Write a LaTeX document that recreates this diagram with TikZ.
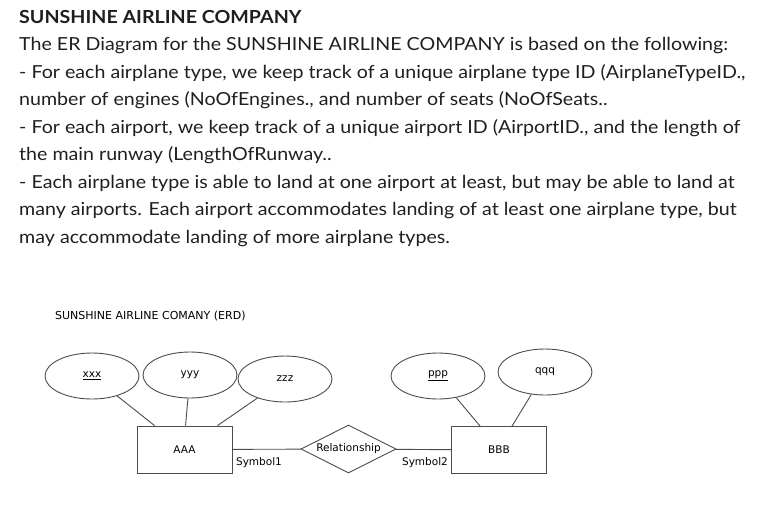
\documentclass[tikz,border=0pt]{standalone}
\usepackage{fontspec}
\setmainfont{Lato}[FakeStretch=1.09]
\newfontfamily\erdfont{DejaVu Sans}
\usetikzlibrary{shapes.geometric}

\begin{document}
\begin{tikzpicture}[
  x=1pt, y=-1pt,
  attr/.style={ellipse, draw=black!70, line width=0.9pt,
               minimum width=94pt, minimum height=46pt, inner sep=0pt,
               font=\erdfont\fontsize{10.5}{12}\selectfont},
  ent/.style={rectangle, draw=black!70, line width=0.9pt,
              minimum width=95pt, minimum height=47pt, inner sep=0pt,
              font=\erdfont\fontsize{10.5}{12}\selectfont},
  rel/.style={diamond, aspect=2, draw=black!70, line width=0.9pt,
              minimum width=95pt, minimum height=48pt, inner sep=0pt,
              font=\erdfont\fontsize{10.5}{12}\selectfont},
  conn/.style={draw=black!70, line width=0.9pt},
  lbl/.style={font=\erdfont\fontsize{10.5}{12}\selectfont, inner sep=0pt},
]
\useasboundingbox (0,0) rectangle (762,504);
% Enunciado
\node[anchor=north west, align=left, inner sep=0pt, text=black!88,
      font=\fontsize{18}{27.5}\selectfont] (enunciado) at (19,10)
  {\textbf{SUNSHINE AIRLINE COMPANY}\\
   The ER Diagram for the SUNSHINE AIRLINE COMPANY is based on the following:\\
   - For each airplane type, we keep track of a unique airplane type ID (AirplaneTypeID.,\\
   number of engines (NoOfEngines., and number of seats (NoOfSeats..\\
   - For each airport, we keep track of a unique airport ID (AirportID., and the length of\\
   the main runway (LengthOfRunway..\\
   - Each airplane type is able to land at one airport at least, but may be able to land at\\
   many airports. Each airport accommodates landing of at least one airplane type, but\\
   may accommodate landing of more airplane types.};
% Titulo del diagrama
\node[lbl, anchor=west, font=\erdfont\fontsize{11}{13}\selectfont] (titulo) at (55,316)
  {SUNSHINE AIRLINE COMANY (ERD)};
% Entidades y relacion
\node[ent] (aaa) at (184.5,449.5) {AAA};
\node[ent] (bbb) at (499,450) {BBB};
\node[rel] (relac) at (348.5,449) {Relationship};
% Atributos
\node[attr] (xxx) at (92,376) {\underline{xxx}};
\node[attr] (yyy) at (190,375) {yyy};
\node[attr] (zzz) at (285,379) {zzz};
\node[attr] (ppp) at (438,376) {\underline{ppp}};
\node[attr] (qqq) at (545,372) {qqq};
% Lineas atributo - entidad
\draw[conn] (xxx) -- ([xshift=18pt]aaa.north west);
\draw[conn] (yyy) -- ([xshift=49pt]aaa.north west);
\draw[conn] (zzz) -- ([xshift=81pt]aaa.north west);
\draw[conn] (ppp) -- ([xshift=29pt]bbb.north west);
\draw[conn] (qqq) -- ([xshift=61pt]bbb.north west);
% Lineas entidad - relacion
\draw[conn] (aaa) -- (relac);
\draw[conn] (relac) -- (bbb);
\node[lbl] (sym1) at (259,463) {Symbol1};
\node[lbl] (sym2) at (425,463) {Symbol2};
\end{tikzpicture}
\end{document}
